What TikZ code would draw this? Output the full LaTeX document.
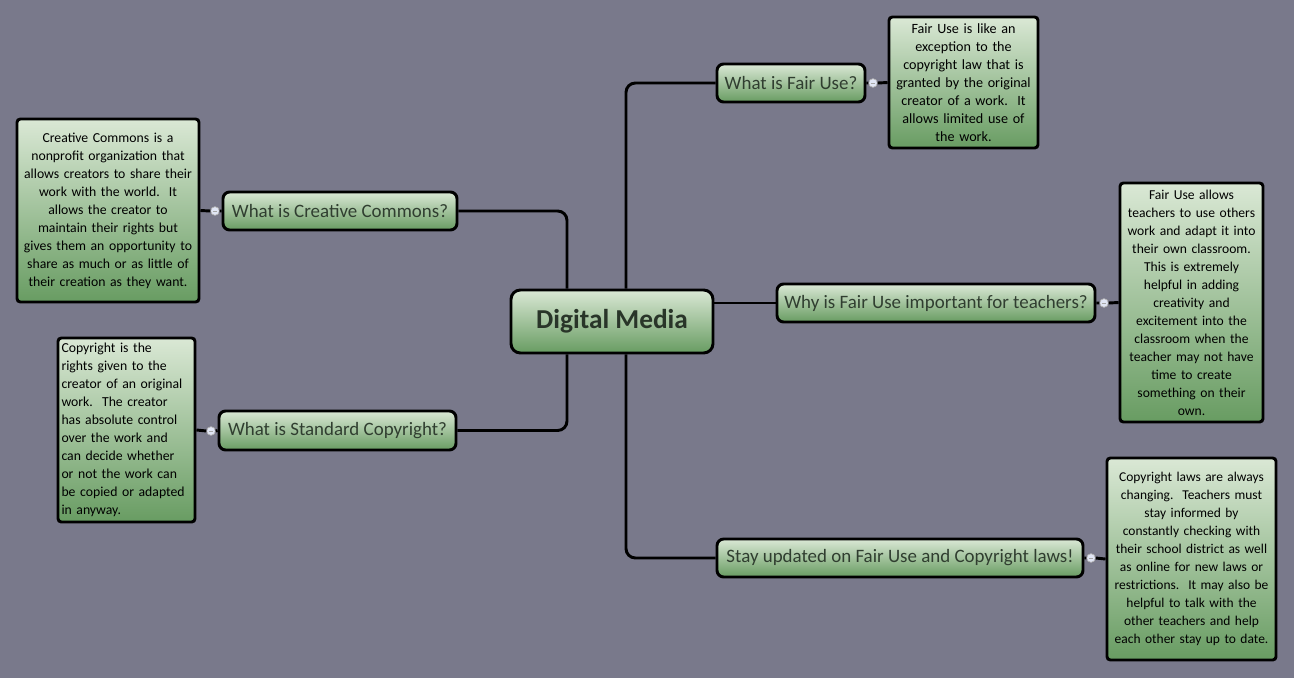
\documentclass[tikz,border=0pt]{standalone}
\usepackage{fontspec}
\setmainfont{Carlito}
\usetikzlibrary{calc}
\definecolor{bgc}{RGB}{121,121,139}
\definecolor{gtop}{RGB}{218,232,213}
\definecolor{gbot}{RGB}{104,156,98}
\definecolor{ttxt}{RGB}{48,62,48}
\definecolor{knobc}{RGB}{225,230,245}
\tikzset{
  box/.style={draw=black, line width=2.2pt, top color=gtop, bottom color=gbot, inner sep=1pt},
  topic/.style={box, rounded corners=5pt, text=ttxt, font=\fontsize{14.2}{16}\selectfont},
  detail/.style={box, rounded corners=2.5pt, text=black, align=center, font=\fontsize{#1}{13.5}\selectfont},
  conn/.style={draw=black, line width=2.2pt, rounded corners=7pt},
  knob/.style={circle, draw=gray!60, line width=0.5pt, fill=knobc, inner sep=0pt, minimum size=6.5pt},
  sz/.style 2 args={minimum width=#1*0.75pt, minimum height=#2*0.75pt, text width=#1*0.75pt-3pt}
}
\begin{document}
\begin{tikzpicture}[x=0.75pt,y=-0.75pt]
\fill[bgc] (0,0) rectangle (1294,678);
\useasboundingbox (0,0) rectangle (1294,678);

% central
\node[box, rounded corners=7pt, minimum width=202*0.75pt, minimum height=63*0.75pt, text=ttxt!85!black, font=\fontsize{20.5}{23}\selectfont\bfseries] (c) at (612,321.5) {Digital Media};

% topics
\node[topic, minimum width=148*0.75pt, minimum height=38*0.75pt] (fq) at (791,83) {What is Fair Use?};
\node[topic, minimum width=318*0.75pt, minimum height=38*0.75pt] (wq) at (936,303) {Why is Fair Use important for teachers?};
\node[topic, minimum width=366*0.75pt, minimum height=38*0.75pt] (sq) at (900,558) {Stay updated on Fair Use and Copyright laws!};
\node[topic, minimum width=234*0.75pt, minimum height=38*0.75pt] (cq) at (340,211) {What is Creative Commons?};
\node[topic, minimum width=237*0.75pt, minimum height=39*0.75pt] (pq) at (337.5,430.5) {What is Standard Copyright?};

% details
\node[detail=10.6, sz={149}{131}] (fd) at (963.5,82.5) {Fair Use is like an\\exception to the\\copyright law that is\\granted by the original\\creator of a work.\ \ It\\allows limited use of\\the work.};
\node[detail=10.2, sz={143}{239}] (wd) at (1191.5,302.5) {Fair Use allows\\teachers to use others\\work and adapt it into\\their own classroom.\\This is extremely\\helpful in adding\\creativity and\\excitement into the\\classroom when the\\teacher may not have\\time to create\\something on their\\own.};
\node[detail=10.1, sz={169}{202}] (sd) at (1191.5,559) {Copyright laws are always\\changing.\ \ Teachers must\\stay informed by\\constantly checking with\\their school district as well\\as online for new laws or\\restrictions.\ \ It may also be\\helpful to talk with the\\other teachers and help\\each other stay up to date.};
\node[detail=10.3, sz={182}{183}] (cd) at (108,210.5) {Creative Commons is a\\nonprofit organization that\\allows creators to share their\\work with the world.\ \ It\\allows the creator to\\maintain their rights but\\gives them an opportunity to\\share as much or as little of\\their creation as they want.};
\node[detail=10.3, minimum width=137*0.75pt, minimum height=184*0.75pt, text width=130*0.75pt, align=left] (pd) at (126.5,430) {Copyright is the\\rights given to the\\creator of an original\\work.\ \ The creator\\has absolute control\\over the work and\\can decide whether\\or not the work can\\be copied or adapted\\in anyway.};

% knobs
\node[knob] (k1) at (873,83) {};
\node[knob] (k2) at (1104,303) {};
\node[knob] (k3) at (1091,558) {};
\node[knob] (k4) at (215,211) {};
\node[knob] (k5) at (211,431) {};

% main connectors
\draw[conn] ([xshift=10.5pt]c.north) |- (fq.west);
\draw[conn] ([xshift=10.5pt]c.south) |- (sq.west);
\draw[conn] (c.east |- wq.west) -- (wq.west);
\draw[conn] ([xshift=-33.75pt]c.north) |- (cq.east);
\draw[conn] ([xshift=-33.75pt]c.south) |- (pq.east);

% detail connectors
\draw[conn] (fq.east) -- (k1.west) (k1.east) -- (fd.west);
\draw[conn] (wq.east) -- (k2.west) (k2.east) -- (wd.west);
\draw[conn] (sq.east) -- (k3.west) (k3.east) -- (sd.west);
\draw[conn] (cq.west) -- (k4.east) (k4.west) -- (cd.east);
\draw[conn] (pq.west) -- (k5.east) (k5.west) -- (pd.east);

% minus signs on knobs
\foreach \k in {k1,k2,k3,k4,k5}{
  \draw[gray!70, line width=0.5pt] ([xshift=-1.8pt]\k.center) -- ([xshift=1.8pt]\k.center);
}
\end{tikzpicture}
\end{document}
